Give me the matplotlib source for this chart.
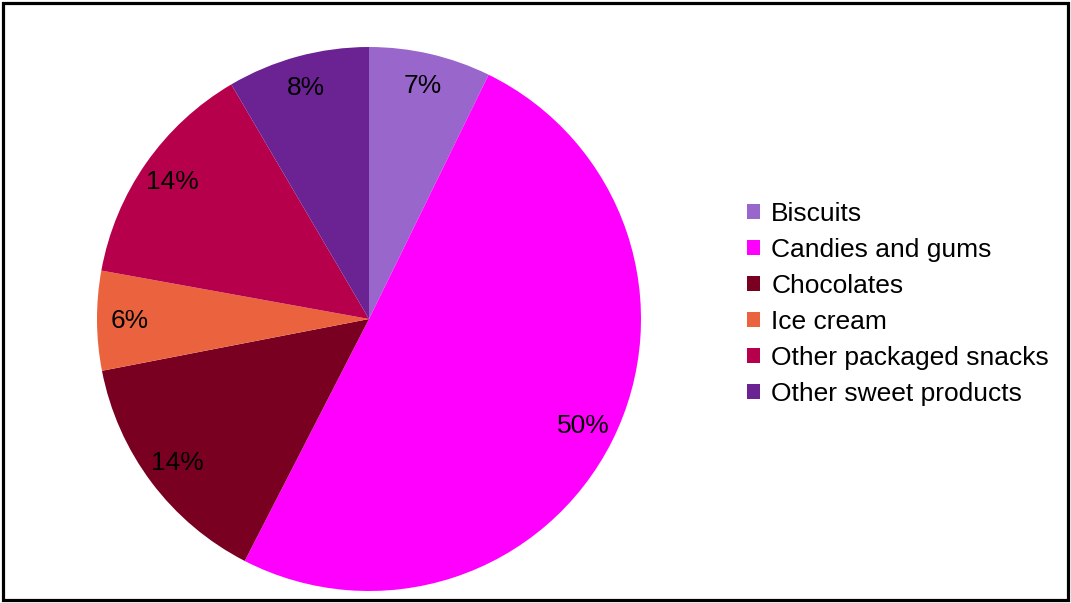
import matplotlib
matplotlib.use("Agg")
import matplotlib.pyplot as plt
from matplotlib.patches import Rectangle, Patch

plt.rcParams['font.family'] = ['Liberation Sans', 'DejaVu Sans']

categories = ["Biscuits", "Candies and gums", "Chocolates", "Ice cream",
              "Other packaged snacks", "Other sweet products"]
shares = [7.25, 50.3, 14.4, 5.9, 13.7, 8.45]
colors = ["#9966CC", "#FF00FF", "#7A0021", "#EA633E", "#B6004B", "#6B2394"]

W, H, DPI = 1071, 603, 100
fig = plt.figure(figsize=(W / DPI, H / DPI), dpi=DPI)

# pie area: centre (369, 319) px from top-left, radius 272 px
cx, cy, r = 369, 319, 272
ax = fig.add_axes([(cx - r) / W, (H - cy - r) / H, 2 * r / W, 2 * r / H])
wedges, _, autotexts = ax.pie(
    shares, colors=colors, startangle=90, counterclock=False,
    autopct='%.0f%%', pctdistance=0.88, radius=1.0,
    wedgeprops=dict(linewidth=0),
    textprops=dict(fontsize=19, color='black'))
ax.set_xlim(-1, 1)
ax.set_ylim(-1, 1)
ax.set_aspect('equal')
ax.axis('off')

handles = [Patch(facecolor=c, edgecolor='none') for c in colors]
fig.legend(handles, categories, loc='upper left',
           bbox_to_anchor=(747 / W, 1 - 202 / H), frameon=False,
           fontsize=19, handlelength=0.5, handleheight=0.5,
           handletextpad=0.42, labelspacing=0.455, borderaxespad=0,
           borderpad=0)

# outer frame
fig.patches.append(Rectangle((3 / W, 3 / H), (1068 - 3) / W, (600 - 3) / H,
                             transform=fig.transFigure, fill=False,
                             edgecolor='black', linewidth=2.3))

fig.savefig("out.png", dpi=DPI)
